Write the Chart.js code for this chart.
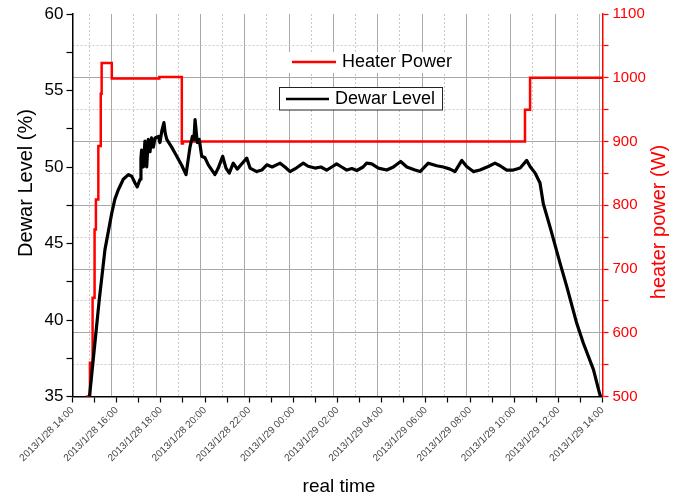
<!DOCTYPE html>
<html>
<head>
<meta charset="utf-8">
<script src="https://cdn.jsdelivr.net/npm/chart.js@4.4.0/dist/chart.umd.min.js"></script>
<style>
  body { margin: 0; background: #fff; }
  #wrap { width: 683px; height: 500px; }
</style>
</head>
<body>
<div id="wrap"><canvas id="myChart" width="683" height="500"></canvas></div>
<script>
// x values are hours after 2013/1/28 14:00
var tickLabels = ["2013/1/28 14:00", "2013/1/28 16:00", "2013/1/28 18:00", "2013/1/28 20:00",
  "2013/1/28 22:00", "2013/1/29 00:00", "2013/1/29 02:00", "2013/1/29 04:00", "2013/1/29 06:00",
  "2013/1/29 08:00", "2013/1/29 10:00", "2013/1/29 12:00", "2013/1/29 14:00"];

var dewarHours = [0.77, 1.21, 1.47, 1.78, 1.92, 2.07, 2.30, 2.53, 2.68, 2.83, 2.93, 3.06, 3.10, 3.13,
  3.21, 3.28, 3.36, 3.43, 3.51, 3.58, 3.66, 3.74, 3.89, 3.96, 4.05, 4.14, 4.20, 4.27, 4.49, 4.72,
  4.95, 5.14, 5.32, 5.43, 5.50, 5.55, 5.65, 5.74, 5.85, 6.00, 6.15, 6.45, 6.60, 6.80, 6.95, 7.10,
  7.28, 7.46, 7.66, 7.89, 8.04, 8.34, 8.57, 8.80, 9.04, 9.40, 9.62, 9.85, 10.15, 10.45, 10.67,
  10.98, 11.25, 11.51, 11.74, 11.96, 12.19, 12.42, 12.65, 12.87, 13.16, 13.32, 13.55, 13.85, 14.23,
  14.53, 14.86, 15.14, 15.51, 15.74, 16.11, 16.49, 16.79, 17.10, 17.32, 17.63, 17.85, 18.15, 18.45,
  18.83, 19.13, 19.36, 19.66, 19.96, 20.27, 20.57, 20.72, 20.95, 21.17, 21.32, 21.62, 22.08, 22.38,
  22.83, 23.13, 23.59, 23.86, 23.91];
var dewarLevel = [35.0, 41.3, 44.6, 47.0, 47.9, 48.5, 49.2, 49.5, 49.4, 48.95, 48.7, 49.2, 50.6, 51.1,
  50.0, 51.7, 50.0, 51.8, 51.0, 51.9, 51.3, 51.9, 52.0, 51.6, 52.4, 52.9, 52.2, 51.8, 51.3, 50.7,
  50.1, 49.5, 51.3, 52.0, 51.8, 53.1, 51.6, 51.8, 50.7, 50.6, 50.14, 49.5, 49.93, 50.7, 49.93, 49.6,
  50.25, 49.86, 50.2, 50.58, 49.93, 49.7, 49.8, 50.14, 50.0, 50.25, 50.0, 49.7, 49.95, 50.25, 50.05,
  49.93, 50.0, 49.8, 50.0, 50.2, 50.0, 49.8, 49.9, 49.77, 50.0, 50.25, 50.2, 49.93, 49.8,
  50.0, 50.36, 50.0, 49.8, 49.7, 50.25, 50.08, 50.0, 49.86, 49.7, 50.43, 50.03, 49.7, 49.8,
  50.03, 50.25, 50.08, 49.8, 49.8, 49.93, 50.43, 50.03, 49.6, 48.95, 47.6, 46.1, 43.7, 42.2,
  39.8, 38.5, 36.76, 35.24, 35.0];

var heaterHours = [0.61, 0.79, 0.91, 1.00, 1.06, 1.17, 1.28, 1.32, 1.78, 3.93, 4.95, 5.00, 20.49, 20.72, 24.0];
var heaterPower = [500, 553, 655, 762, 809, 893, 975, 1023, 999, 1001, 897, 900, 950, 1000, 999];

function pts(xs, ys) {
  return xs.map(function (x, i) { return { x: x, y: ys[i] }; });
}

var FONT = "'Liberation Sans', Arial, sans-serif";
var GRID = '#a8a8a8';
var GRID_MINOR = '#c8c8c8';

// axis titles and the two legend boxes
var extras = {
  id: 'extras',
  afterDraw: function (chart) {
    var c = chart.ctx;
    c.save();
    c.textAlign = 'center';
    c.textBaseline = 'middle';

    c.font = '20px ' + FONT;
    c.fillStyle = '#000';
    c.save(); c.translate(26, 183); c.rotate(-Math.PI / 2);
    c.fillText('Dewar Level (%)', 0, 0); c.restore();

    c.fillStyle = '#ff0000';
    c.save(); c.translate(659, 222); c.rotate(-Math.PI / 2);
    c.fillText('heater power (W)', 0, 0); c.restore();

    c.fillStyle = '#000';
    c.font = '19px ' + FONT;
    c.fillText('real time', 339, 487);

    // Heater Power entry
    c.font = '18px ' + FONT;
    c.textAlign = 'left';
    c.fillStyle = '#fff';
    c.fillRect(289, 52, 170, 21);
    c.strokeStyle = '#ff0000'; c.lineWidth = 2.5;
    c.beginPath(); c.moveTo(292, 62); c.lineTo(336, 62); c.stroke();
    c.fillStyle = '#000';
    c.fillText('Heater Power', 342, 62);

    // Dewar Level entry
    c.fillStyle = '#fff';
    c.fillRect(279, 87.5, 163, 22.5);
    c.strokeStyle = '#222'; c.lineWidth = 1;
    c.strokeRect(279.5, 87.5, 163, 22.5);
    c.strokeStyle = '#000'; c.lineWidth = 2.5;
    c.beginPath(); c.moveTo(286, 99); c.lineTo(329, 99); c.stroke();
    c.fillStyle = '#000';
    c.fillText('Dewar Level', 335, 99.5);
    c.restore();
  }
};

var ctx = document.getElementById("myChart");
var myChart = new Chart(ctx, {
  type: 'line',
  data: {
    datasets: [
      {
        label: 'Dewar Level',
        data: pts(dewarHours, dewarLevel),
        xAxisID: 'x',
        yAxisID: 'y',
        borderColor: '#000',
        borderWidth: 3.2,
        borderJoinStyle: 'round',
        pointRadius: 0,
        order: 0
      },
      {
        label: 'Heater Power',
        data: pts(heaterHours, heaterPower),
        xAxisID: 'x',
        yAxisID: 'y1',
        borderColor: '#ff0000',
        borderWidth: 2.5,
        pointRadius: 0,
        stepped: 'before',
        order: 1
      }
    ]
  },
  options: {
    responsive: false,
    animation: false,
    devicePixelRatio: 1,
    layout: { padding: { top: 14, left: 0, right: 0, bottom: 0 } },
    plugins: { legend: { display: false }, tooltip: { enabled: false } },
    scales: {
      x: {
        type: 'linear',
        position: 'bottom',
        min: 0,
        max: 24,
        afterFit: function (s) { s.height = 103.5; },
        ticks: {
          stepSize: 1,
          autoSkip: false,
          maxRotation: 45,
          minRotation: 45,
          color: '#444',
          padding: 2,
          font: { family: FONT, size: 10 },
          callback: function (v) { return v % 2 === 0 ? tickLabels[v / 2] : ''; }
        },
        grid: { drawOnChartArea: false, tickColor: '#000', tickLength: 6, tickWidth: 1.2 },
        border: { color: '#000', width: 1.5 }
      },
      xg: {
        type: 'linear',
        position: 'top',
        min: 0.2345,
        max: 24.135,
        afterFit: function (s) { s.height = 0; },
        ticks: { display: false, stepSize: 1, includeBounds: false },
        grid: {
          drawTicks: false,
          color: function (c) { return c.tick && c.tick.value % 2 !== 0 ? GRID_MINOR : GRID; }
        },
        border: {
          display: false,
          dash: function (c) { return c.tick && c.tick.value % 2 !== 0 ? [2, 2] : []; }
        }
      },
      y: {
        position: 'left',
        min: 35,
        max: 60,
        afterFit: function (s) { s.width = 72.5; },
        ticks: {
          stepSize: 2.5,
          color: '#000',
          padding: 3,
          font: { family: FONT, size: 17 },
          callback: function (v) { return v % 5 === 0 ? v : ''; }
        },
        grid: { drawOnChartArea: false, tickColor: '#000', tickLength: 6, tickWidth: 1.2 },
        border: { color: '#000', width: 1.5 }
      },
      y1: {
        position: 'right',
        min: 500,
        max: 1100,
        afterFit: function (s) { s.width = 80.5; },
        ticks: {
          stepSize: 50,
          color: '#ff0000',
          padding: 4,
          font: { family: FONT, size: 15 },
          callback: function (v) { return v % 100 === 0 ? v : ''; }
        },
        grid: {
          color: function (c) {
            if (!c.tick || c.tick.value >= 1100 || c.tick.value <= 500) return 'rgba(0,0,0,0)';
            return c.tick.value % 100 !== 0 ? GRID_MINOR : GRID;
          },
          tickColor: '#ff0000',
          tickLength: 6,
          tickWidth: 1.2,
          tickBorderDash: []
        },
        border: {
          color: '#ff0000',
          width: 1.5,
          dash: function (c) { return c.tick && c.tick.value % 100 !== 0 ? [2, 2] : []; }
        }
      }
    }
  },
  plugins: [extras]
});
</script>
</body>
</html>
